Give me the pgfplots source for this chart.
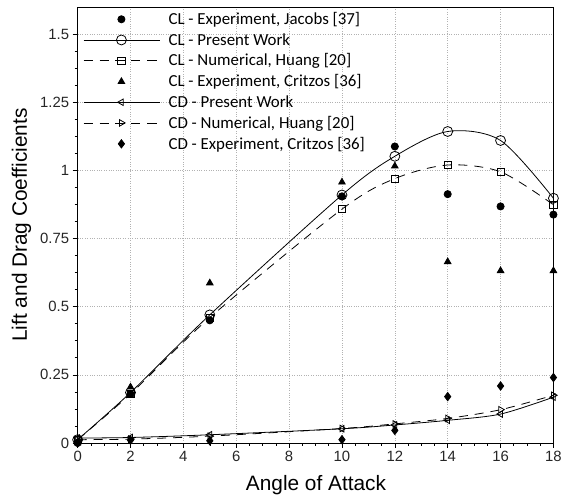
\documentclass[border=0pt]{standalone}
\usepackage{fontspec}
\setmainfont{Liberation Sans}
\newfontfamily\carlito{Carlito}
\usepackage{pgfplots}
\pgfplotsset{compat=1.18}
\begin{document}
\begin{tikzpicture}
\begin{axis}[
  scale only axis, width=478bp, height=438bp,
  xmin=0, xmax=18, ymin=0, ymax=1.6,
  xtick={0,2,...,18},
  ytick={0,0.25,0.5,0.75,1,1.25,1.5},
  yticklabels={0,0.25,0.5,0.75,1,1.25,1.5},
  minor x tick num=3, minor y tick num=3,
  tick align=outside, xtick pos=left, ytick pos=left,
  major tick length=5bp, minor tick length=3bp,
  every tick/.style={black, line width=0.6pt},
  /pgf/number format/assume math mode=true,
  tick label style={font=\fontsize{15}{17}\selectfont, text=black!85},
  grid=major,
  major grid style={gray!60, dotted, line width=0.6pt},
  axis line style={black, line width=0.8pt},
  xlabel={Angle of Attack},
  ylabel={Lift and Drag Coefficients},
  label style={font=\fontsize{21}{24}\selectfont},
  xlabel style={at={(axis description cs:0.501,-0.1096)}, anchor=base},
  ylabel style={at={(axis description cs:-0.118,0.5)}, anchor=center},
  legend style={draw=none, fill=none, at={(0.005,0.997)}, anchor=north west,
    font=\carlito\fontsize{17}{19}\selectfont, row sep=3.3bp,
    cells={anchor=west},
    /tikz/every odd column/.append style={column sep=6bp}},
  legend image code/.code={\draw[mark repeat=2, mark phase=2] plot coordinates {(0bp,0bp) (38bp,0bp) (77bp,0bp)};},
  every axis plot/.append style={line width=0.8pt},
]
% CL Experiment Jacobs
\addplot[only marks, mark=*, mark size=3.6bp, black] coordinates {
(0,0.0) (2,0.18) (5,0.45) (10,0.905) (12,1.088) (14,0.913) (16,0.868) (18,0.838)};
\addlegendentry{CL - Experiment, Jacobs [37]}
% CL Present work
\addplot[black, smooth, mark=o, mark size=5bp, mark options={solid, fill=white, fill opacity=0}] coordinates {
(0,0.012) (2,0.185) (5,0.47) (10,0.91) (12,1.052) (14,1.143) (16,1.11) (18,0.898)};
\addlegendentry{CL - Present Work}
% CL Numerical Huang
\addplot[black, smooth, dash pattern=on 9bp off 7bp, mark=square, mark size=3.6bp, mark options={solid}] coordinates {
(0,0.012) (2,0.18) (5,0.46) (10,0.858) (12,0.97) (14,1.02) (16,0.995) (18,0.874)};
\addlegendentry{CL - Numerical, Huang [20]}
% CL Experiment Critzos
\addplot[only marks, mark=triangle*, mark size=3.8bp, black] coordinates {
(0,0.0) (2,0.205) (5,0.587) (10,0.957) (12,1.016) (14,0.665) (16,0.632) (18,0.632)};
\addlegendentry{CL - Experiment, Critzos [36]}
% CD Present
\addplot[black, smooth, mark=triangle, mark size=3.8bp, mark options={solid, rotate=90}] coordinates {
(0,0.018) (2,0.02) (5,0.03) (10,0.052) (12,0.066) (14,0.083) (16,0.106) (18,0.168)};
\addlegendentry{CD - Present Work}
% CD Numerical Huang
\addplot[black, smooth, dash pattern=on 9bp off 7bp, mark=triangle, mark size=3.8bp, mark options={solid, rotate=-90}] coordinates {
(0,0.012) (2,0.014) (5,0.025) (10,0.053) (12,0.07) (14,0.09) (16,0.122) (18,0.175)};
\addlegendentry{CD - Numerical, Huang [20]}
% CD Experiment Critzos
\addplot[only marks, mark=diamond*, mark size=4.2bp, black] coordinates {
(0,0.0) (2,0.01) (5,0.008) (10,0.012) (12,0.046) (14,0.17) (16,0.209) (18,0.24)};
\addlegendentry{CD - Experiment, Critzos [36]}
\end{axis}
\path ([xshift=-78bp,yshift=-55bp]current axis.south west) rectangle ([xshift=9bp,yshift=7bp]current axis.north east);
\end{tikzpicture}
\end{document}
